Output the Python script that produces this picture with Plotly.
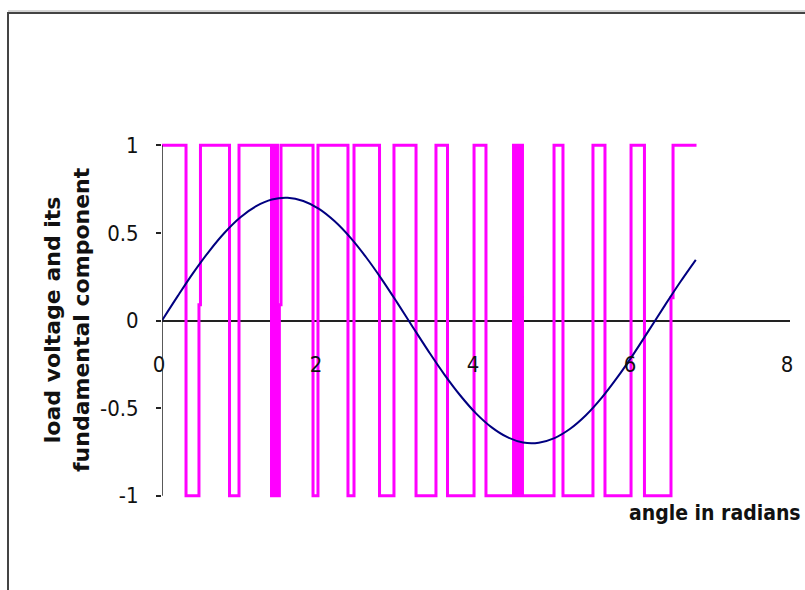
import plotly.graph_objects as go

# PWM load voltage: switching angles (rad) and the level reached at each angle
pwm_angle = [0.0, 0.306, 0.471, 0.490, 0.860, 0.981, 1.395, 1.433, 1.471, 1.495,
             1.516, 1.924, 1.987, 2.369, 2.446, 2.771, 2.955, 3.236, 3.490, 3.637,
             3.975, 4.127, 4.478, 4.516, 4.554, 4.592, 4.994, 5.108, 5.490, 5.643,
             5.975, 6.146, 6.484, 6.510, 6.809]
pwm_level = [1, -1, 0.09, 1, -1, 1, -1, 1, -1, 0.09,
             1, -1, 1, -1, 1, -1, 1, -1, 1, -1,
             1, -1, 1, -1, 1, -1, 1, -1, 1, -1,
             1, -1, 0.13, 1, 1]

# Fundamental component of the load voltage
fund_angle = [0.0, 0.2, 0.4, 0.6, 0.8, 1.0, 1.2, 1.4, 1.6, 1.8, 2.0, 2.2, 2.4, 2.6,
              2.8, 3.0, 3.2, 3.4, 3.6, 3.8, 4.0, 4.2, 4.4, 4.6, 4.8, 5.0, 5.2, 5.4,
              5.6, 5.8, 6.0, 6.2, 6.4, 6.6, 6.8]
fund_value = [0.0, 0.139, 0.273, 0.395, 0.502, 0.589, 0.652, 0.690, 0.700, 0.682,
              0.637, 0.566, 0.473, 0.361, 0.235, 0.099, -0.041, -0.179, -0.310,
              -0.428, -0.530, -0.610, -0.666, -0.696, -0.697, -0.671, -0.618,
              -0.541, -0.442, -0.325, -0.196, -0.058, 0.082, 0.218, 0.346]

x_ticks = [0, 2, 4, 6, 8]
x_tick_text = ["0", "2", "4", "6", "8"]
y_ticks = [-1, -0.5, 0, 0.5, 1]
y_tick_text = ["-1", "-0.5", "0", "0.5", "1"]

W, H = 805, 590
L, R, T, B = 162, 15, 140, 89
PW, PH = W - L - R, H - T - B


def px_x(p):
    return (p - L) / PW


def px_y(p):
    return (H - B - p) / PH


narrow = "Liberation Sans Narrow, Arial Narrow, DejaVu Sans Condensed, sans-serif"

fig = go.Figure()
fig.add_trace(go.Scatter(
    x=pwm_angle, y=pwm_level, mode="lines", line_shape="hv",
    line=dict(color="#FF00FF", width=3), name="load voltage"))
fig.add_trace(go.Scatter(
    x=fund_angle, y=fund_value, mode="lines", line_shape="spline",
    line=dict(color="#000080", width=2), name="fundamental"))

fig.update_layout(
    width=W, height=H,
    margin=dict(l=L, r=R, t=T, b=B),
    paper_bgcolor="white", plot_bgcolor="white",
    showlegend=False,
    xaxis=dict(range=[0, 8], tickvals=x_ticks, ticktext=x_tick_text,
               showgrid=False, zeroline=False, showline=False, ticks="",
               anchor="free", position=0.5, ticklabelstandoff=28,
               ticklabelshift=-3,
               tickfont=dict(family=narrow, size=22, color="#111")),
    yaxis=dict(range=[-1.03, 1.03], tickvals=y_ticks, ticktext=y_tick_text,
               showgrid=False, zeroline=True, zerolinecolor="#222",
               zerolinewidth=1.5, showline=False, ticks="outside", ticklen=5,
               tickcolor="#222", tickwidth=1.5, ticklabelstandoff=13,
               tickfont=dict(family=narrow, size=22, color="#111")),
    shapes=[
        # y axis line between -1 and 1
        dict(type="line", xref="x", yref="y", x0=0, x1=0, y0=-1, y1=1,
             line=dict(color="#222", width=1.5)),
        # chart frame
        dict(type="rect", xref="paper", yref="paper", layer="below",
             x0=px_x(8), x1=px_x(830), y0=px_y(13), y1=px_y(620),
             line=dict(color="#444", width=2)),
        dict(type="line", xref="paper", yref="paper",
             x0=px_x(8), x1=px_x(830), y0=px_y(11), y1=px_y(11),
             line=dict(color="#aaa", width=1)),
    ],
    annotations=[
        dict(text="angle in radians", xref="paper", yref="paper",
             x=px_x(803), y=px_y(513), xanchor="right", yanchor="middle",
             showarrow=False,
             font=dict(family=narrow, size=21, color="#111", weight="bold")),
        dict(text="load voltage and its<br>fundamental component",
             xref="paper", yref="paper", x=px_x(67), y=px_y(320),
             xanchor="center", yanchor="middle", textangle=-90,
             showarrow=False, align="center",
             font=dict(family="DejaVu Sans, Liberation Sans, sans-serif",
                       size=22, color="#111", weight="bold")),
    ],
)

fig.write_html("out.html")
